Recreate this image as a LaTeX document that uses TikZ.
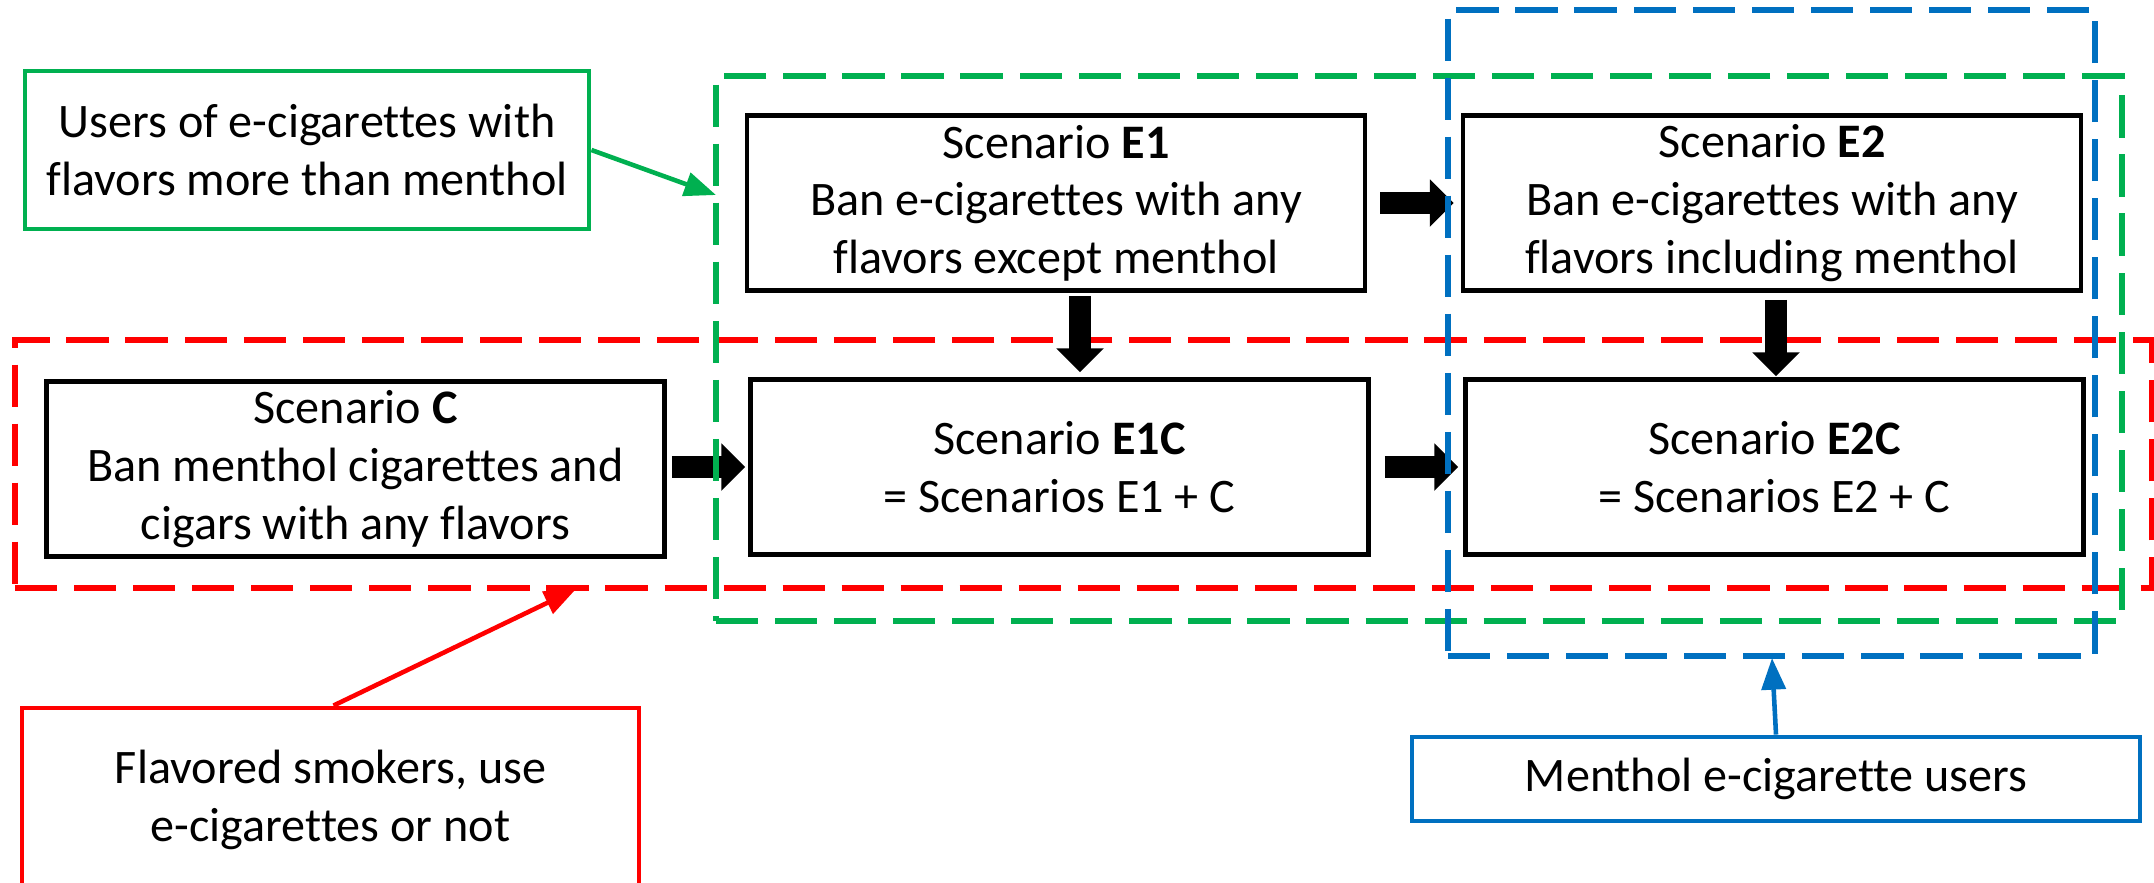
\documentclass[tikz,border=0pt]{standalone}
\usepackage{fontspec}
\setmainfont{Carlito}[Ligatures=CommonOff]
\usetikzlibrary{arrows.meta}
\definecolor{zgreen}{RGB}{0,176,80}
\definecolor{zred}{RGB}{255,0,0}
\definecolor{zblue}{RGB}{0,112,192}

\begin{document}
\begin{tikzpicture}[sbox/.style = {shape = rectangle,
                                   draw = black,
                                   line width = 1.3pt,
                                   minimum width = 6.18cm,
                                   minimum height = 1.75cm,
                                   inner sep = 0pt,
                                   align = center,
                                   font = \fontsize{13.7}{16.4}\selectfont},
                    lbox/.style = {shape = rectangle,
                                   line width = 1.4pt,
                                   inner sep = 0pt,
                                   align = center,
                                   font = \fontsize{13.7}{16.4}\selectfont},
                    zone/.style = {shape = rectangle,
                                   line width = 1.5pt,
                                   inner sep = 0pt,
                                   dash pattern = on 12pt off 4.8pt},
                    bigarrow/.style = {line width = 6.4pt,
                                       -{Triangle[length=6.8pt,width=13.1pt]}},
                    thinarrow/.style = {line width = 1.3pt,
                                        -{Triangle[length=9pt,width=6.8pt]}}]
		\useasboundingbox (0,0) rectangle (21.54,-8.82);
		% red zone lies under the arrows
		\node[zone, draw = zred, line width = 1.7pt, minimum width = 21.37cm, minimum height = 2.48cm] (rzone) at (10.835,-4.64) {};
		% scenarios
		\node[sbox] (e1) at (10.56,-2.03) {Scenario \textbf{E1}\\Ban e-cigarettes with any\\flavors except menthol};
		\node[sbox] (e2) at (17.72,-2.03) {Scenario \textbf{E2}\\Ban e-cigarettes with any\\flavors including menthol};
		\node[sbox] (c) at (3.555,-4.69) {Scenario \textbf{C}\\Ban menthol cigarettes and\\cigars with any flavors};
		\node[sbox] (e1c) at (10.595,-4.67) {Scenario \textbf{E1C}\\= Scenarios E1 + C};
		\node[sbox] (e2c) at (17.745,-4.67) {Scenario \textbf{E2C}\\= Scenarios E2 + C};
		\draw[bigarrow, shorten <= 0.13cm, shorten >= 0.07cm] (e1) -- (e2);
		\draw[bigarrow, shorten <= 0.05cm, shorten >= 0.03cm] (c.east |- e1c) -- (e1c);
		\draw[bigarrow, shorten <= 0.14cm, shorten >= 0.05cm] (e1c) -- (e2c);
		\draw[bigarrow, shorten <= 0.03cm, shorten >= 0.05cm] ([xshift=0.24cm]e1.south) -- ([xshift=0.24cm]e1.south |- e1c.north);
		\draw[bigarrow, shorten <= 0.07cm, shorten >= 0.01cm] ([xshift=0.04cm]e2.south) -- ([xshift=0.04cm]e2.south |- e2c.north);
		% green and blue zones
		\node[zone, draw = zgreen, minimum width = 14.06cm, minimum height = 5.45cm] (gzone) at (14.19,-3.485) {};
		\node[zone, draw = zblue, minimum width = 6.47cm, minimum height = 6.46cm] (bzone) at (17.715,-3.33) {};
		% labels
		\node[lbox, draw = zgreen, minimum width = 5.64cm, minimum height = 1.58cm] (glabel) at (3.07,-1.5) {Users of e-cigarettes with\\flavors more than menthol};
		\node[lbox, draw = zred, minimum width = 6.17cm, minimum height = 1.84cm] (rlabel) at (3.305,-8.0) {Flavored smokers, use\\e-cigarettes or not};
		\node[lbox, draw = zblue, minimum width = 7.28cm, minimum height = 0.84cm] (blabel) at (17.76,-7.79) {Menthol e-cigarette users};
		\coordinate (gtip) at (7.16,-1.95);
		\coordinate (rtip) at (5.76,-5.89);
		\coordinate (btip) at (17.72,-6.58);
		\draw[thinarrow, zgreen] (glabel.east) -- (gtip);
		\draw[thinarrow, zred] ([xshift=0.03cm]rlabel.north) -- (rtip);
		\draw[thinarrow, zblue] (blabel.north) -- (btip);
	\end{tikzpicture}
\end{document}
